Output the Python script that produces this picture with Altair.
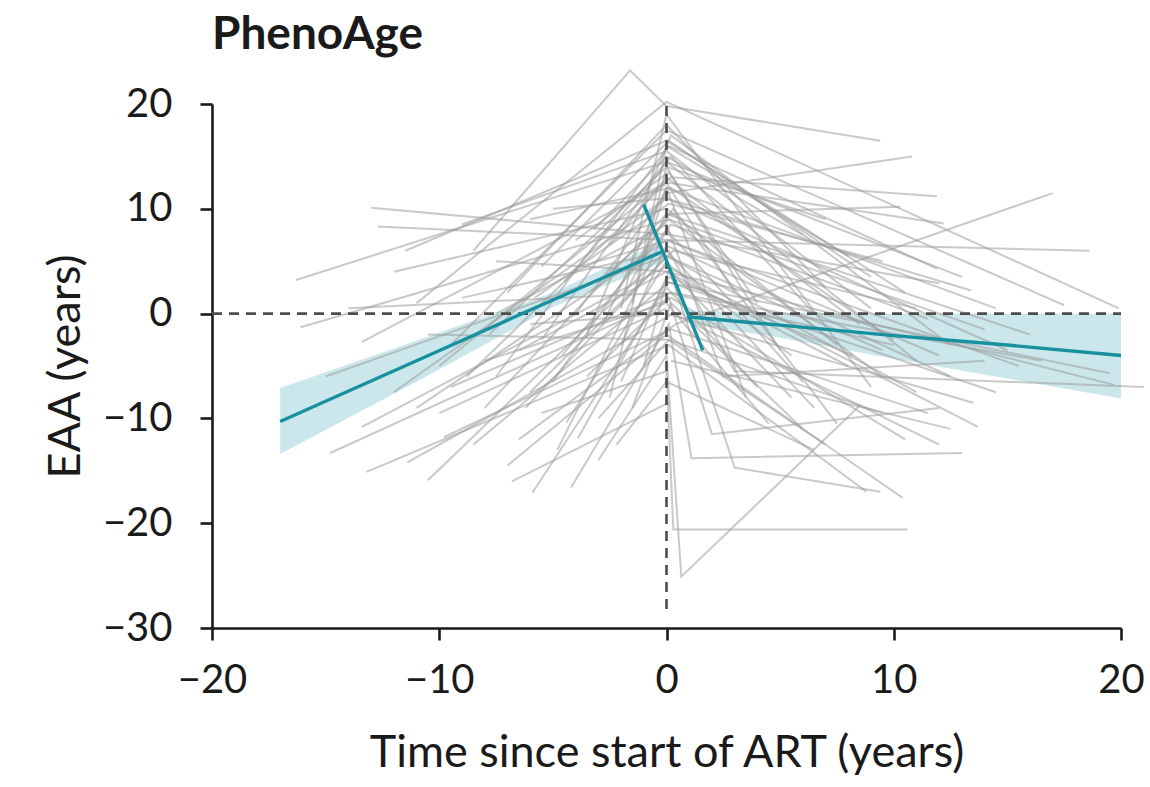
import altair as alt
import pandas as pd

# ---- individual participant trajectories (years since ART start, EAA in years) ----
# sample before ART, sample around ART start, follow-up sample, optional later sample
pre_t = [-16.3, -16.1, -13.0, -12.7, -13.4, -14.8, -13.2, -13.4, -11.4, -10.5,
         -9.8, -5.9, -4.2, -4.4, -8.5, -11.0, -9.5, -7.5, -12.0, -10.0,
         -8.0, -6.5, -3.9, -3.0, -2.5, -7.0, -5.5, -9.0, -6.0, -4.0,
         -3.0, -2.0, -1.5, -7.0, -8.5, -11.0, -5.0, -6.5, -2.5, -3.5,
         -15.0, -4.8, -1.0, -9.0, -5.5, -2.0, -3.5, -12.0, -7.5, -6.0,
         -10.5, -5.0, -14.0, -4.5, -1.8, -8.0, -3.0, -6.0, -1.2, -7.5,
         -4.0, -2.2, -9.5, -11.5, -5.5, None, None, -10.0, -6.8, -3.2,
         -5.8, -2.8, -4.6, -1.5, -6.2, -3.8, -7.8, -2.0, -8.8]
pre_eaa = [3.2, -1.3, 10.1, 8.3, -2.7, -13.3, -15.1, -10.8, -14.2, -15.9,
           -11.8, -17.1, -16.6, -10.4, 6.0, 1.0, -3.0, -6.0, -7.5, -5.0,
           -9.0, -12.0, -11.9, -14.0, -8.0, 2.0, 4.5, 8.5, 9.0, 0.0,
           3.0, -3.0, -9.0, -14.5, -12.5, -9.0, -6.5, -3.5, 6.5, -2.0,
           -6.0, -13.0, -5.0, 1.5, -9.5, 0.5, -6.0, 4.0, 5.0, -1.0,
           -2.0, 10.0, 0.5, 3.0, 2.0, -4.5, -10.0, -7.5, 4.0, 0.0,
           7.0, -12.5, -7.0, 6.0, -2.5, None, None, -9.5, -16.0, 8.0,
           1.5, -1.0, -4.0, 1.0, -9.0, 4.5, -2.0, -6.5, -6.0]
art_t = [0.0, 0.1, 0.2, 0.3, 0.0, 0.2, 0.1, 0.0, 0.3, 0.0,
         0.2, 0.0, 0.1, 0.0, -1.6, 0.0, 0.0, 0.1, 0.0, 0.2,
         0.0, 0.4, 0.1, 0.0, 0.0, 0.0, 0.1, 0.0, 0.2, 0.0,
         0.1, 0.0, 0.2, 0.0, 0.1, 0.0, 0.3, 0.0, 0.0, 0.2,
         0.0, 0.0, 0.0, 0.1, 0.0, 0.0, 0.1, 0.0, 0.2, 0.0,
         0.1, 0.0, 0.0, 0.2, 0.0, 0.0, 0.1, 0.3, 0.0, 0.0,
         0.1, 0.0, 0.2, 0.0, 0.0, 0.0, 0.2, 0.0, 0.1, 0.0,
         0.1, 0.0, 0.2, 0.0, 0.0, 0.1, 0.0, 0.2, 0.0]
art_eaa = [14.5, 9.0, 7.5, 7.0, 12.5, 1.5, -3.0, 4.5, 0.0, 6.0,
           -1.5, 2.5, -1.0, 5.0, 23.2, 20.2, 17.5, 16.0, 11.0, 13.0,
           9.5, -1.0, 3.5, -4.0, 14.0, 18.0, 16.5, 15.5, 12.0, 11.5,
           9.0, 6.5, 1.0, -2.0, 3.0, 7.0, 10.0, 4.0, 13.0, 17.0,
           5.5, 8.0, 3.0, 6.0, -5.5, 19.0, 1.5, 10.0, 4.0, 0.0,
           -2.5, 11.0, 2.0, 15.0, 9.5, 1.0, -2.5, 6.0, 12.0, 8.5,
           13.5, -6.5, 2.0, 16.5, 14.5, 4.0, -4.5, 0.5, -8.5, 15.0,
           10.5, 12.0, 8.5, 16.0, 5.5, 7.0, 14.0, 4.5, 12.5]
fu_t = [11.0, 9.5, 12.0, 18.6, 12.2, 10.5, 8.8, 13.7, 12.0, 6.5,
        11.5, 4.0, 1.1, 3.0, 0.0, 19.9, 17.5, 11.9, 13.4, 11.9,
        10.3, 17.0, 8.2, 0.65, 5.0, 7.0, 9.0, 9.0, 10.0, 10.8,
        14.0, 12.5, 6.0, 10.4, 14.5, 15.5, 7.5, 19.7, 8.5, 12.5,
        11.0, 6.0, 19.5, 3.0, 0.3, 9.0, 2.0, 7.5, 5.5, 13.5,
        7.0, 15.0, 10.0, 6.5, 16.0, 4.5, 9.5, 11.0, 3.5, 2.5,
        4.0, 6.5, 16.5, 10.5, 13.0, 8.0, 12.5, None, None, 6.0,
        9.5, 14.5, 11.5, 8.0, 9.5, 12.0, 7.0, 5.5, 3.0]
fu_eaa = [-4.5, -6.0, 2.9, 6.0, 8.6, -12.0, -17.0, -10.8, -12.5, -9.0,
          -9.5, -7.0, -13.8, -14.7, 19.8, 0.5, 0.8, 4.3, 2.2, 11.2,
          10.2, 11.5, -4.0, -25.1, -3.5, 2.5, 3.5, 0.5, -2.5, 15.0,
          -1.5, -6.0, -11.0, -17.6, -7.5, -5.0, -10.5, -6.8, -1.0, -3.0,
          -7.5, -6.5, -5.7, -5.5, -20.6, -7.0, -11.5, -3.0, -8.0, -8.5,
          -12.5, -3.5, -3.0, 0.0, -2.0, -10.5, -9.5, 0.5, -8.0, -6.0,
          1.0, -13.0, -4.5, 2.0, 3.5, -5.0, -11.0, None, None, 7.5,
          5.0, 0.5, -0.5, 5.5, -3.5, -4.0, 9.0, -4.0, 2.0]
late_t = [None, None, None, None, None, None, None, None, None, None,
          None, None, 13.0, 9.4, 9.4, None, None, None, None, None,
          None, None, None, 8.5, None, None, None, None, None, None,
          None, None, None, None, None, None, None, None, None, None,
          None, None, None, 21.0, 10.6, None, 12.0, None, None, None,
          None, None, None, None, None, None, None, None, None, 14.0,
          None, None, None, None, None, None, None, None, None, None,
          None, None, None, None, None, None, None, None, None]
late_eaa = [None, None, None, None, None, None, None, None, None, None,
            None, None, -13.3, -17.0, 16.5, None, None, None, None, None,
            None, None, None, -8.8, None, None, None, None, None, None,
            None, None, None, None, None, None, None, None, None, None,
            None, None, None, -7.0, -20.6, None, -9.0, None, None, None,
            None, None, None, None, None, None, None, None, None, -4.5,
            None, None, None, None, None, None, None, None, None, None,
            None, None, None, None, None, None, None, None, None]

# ---- fitted piecewise mixed-model trend with 95% CI ----
before_t = [-17.0, -11.0, -5.0, -0.2]
before_fit = [-10.3, -4.5, 1.3, 5.9]
before_lo = [-13.4, -6.5, 0.6, 4.9]
before_hi = [-7.1, -2.6, 2.0, 6.9]

switch_t = [-1.0, 1.6]
switch_fit = [10.4, -3.5]

after_t = [0.9, 5.0, 10.0, 15.0, 20.0]
after_fit = [-0.3, -1.1, -2.1, -3.0, -4.0]
after_lo = [-0.9, -2.3, -4.3, -6.2, -8.1]
after_hi = [0.3, 0.1, 0.0, 0.0, 0.0]

rows = []
for i in range(len(art_t)):
    pts = [(pre_t[i], pre_eaa[i]), (art_t[i], art_eaa[i]),
           (fu_t[i], fu_eaa[i]), (late_t[i], late_eaa[i])]
    for k, (t, v) in enumerate(pts):
        if t is not None:
            rows.append({"pid": i, "k": k, "t": t, "eaa": v})
people = pd.DataFrame(rows)

band = pd.concat([
    pd.DataFrame({"seg": "before", "t": before_t, "lo": before_lo, "hi": before_hi}),
    pd.DataFrame({"seg": "after", "t": after_t, "lo": after_lo, "hi": after_hi}),
])
fit = pd.concat([
    pd.DataFrame({"seg": "before", "t": before_t, "fit": before_fit}),
    pd.DataFrame({"seg": "switch", "t": switch_t, "fit": switch_fit}),
    pd.DataFrame({"seg": "after", "t": after_t, "fit": after_fit}),
])

xs = alt.Scale(domain=[-20, 20], nice=False, zero=False)
ys = alt.Scale(domain=[-30, 20], nice=False, zero=False)
X = alt.X("t:Q", scale=xs, title="Time since start of ART (years)",
          axis=alt.Axis(values=[-20, -10, 0, 10, 20], format="d", labelFlush=False))
Y = alt.Y("eaa:Q", scale=ys, title="EAA (years)",
          axis=alt.Axis(values=[-30, -20, -10, 0, 10, 20], format="d", labelFlush=False))

ci = alt.Chart(band).mark_area(color="#a9d7de", opacity=0.6).encode(
    x=X, y=alt.Y("lo:Q", scale=ys, title="EAA (years)"), y2="hi:Q", detail="seg:N")

paths = alt.Chart(people).mark_line(color="#9c9c9c", strokeWidth=2, opacity=0.55).encode(
    x=X, y=Y, detail="pid:N", order="k:Q")

refs = pd.DataFrame({"t": [-20.0, 0.0], "t2": [20.0, 0.0], "eaa": [0.0, 19.8], "eaa2": [0.0, -28.5]})
dashed = alt.Chart(refs).mark_rule(color="#4d4d4d", strokeWidth=2.6, strokeDash=[10, 7]).encode(
    x=X, x2="t2:Q", y=Y, y2="eaa2:Q")

trend = alt.Chart(fit).mark_line(color="#17919f", strokeWidth=3.4).encode(
    x=X, y=alt.Y("fit:Q", scale=ys, title="EAA (years)"), detail="seg:N")

chart = alt.layer(ci, paths, dashed, trend).properties(
    width=909, height=524,
    title=alt.TitleParams("PhenoAge", anchor="start", frame="group", fontSize=46,
                          fontWeight="bold", font="Lato", color="#1a1a1a", offset=7),
    autosize=alt.AutoSizeParams(type="none"),
    padding={"left": 212, "top": 104, "right": 29, "bottom": 159},
).configure_view(stroke=None).configure_axis(
    grid=False, domainColor="#1a1a1a", domainWidth=2.6, tickColor="#1a1a1a",
    tickWidth=2.6, tickSize=12, labelFont="Lato", labelFontSize=40,
    labelColor="#1a1a1a", titleFont="Lato", titleFontSize=45,
    titleFontWeight="normal", titleColor="#1a1a1a",
).configure_axisX(labelPadding=20, titlePadding=30).configure_axisY(
    labelPadding=28, titlePadding=14)

chart.save("out.html", embed_options={"renderer": "svg", "actions": False})
